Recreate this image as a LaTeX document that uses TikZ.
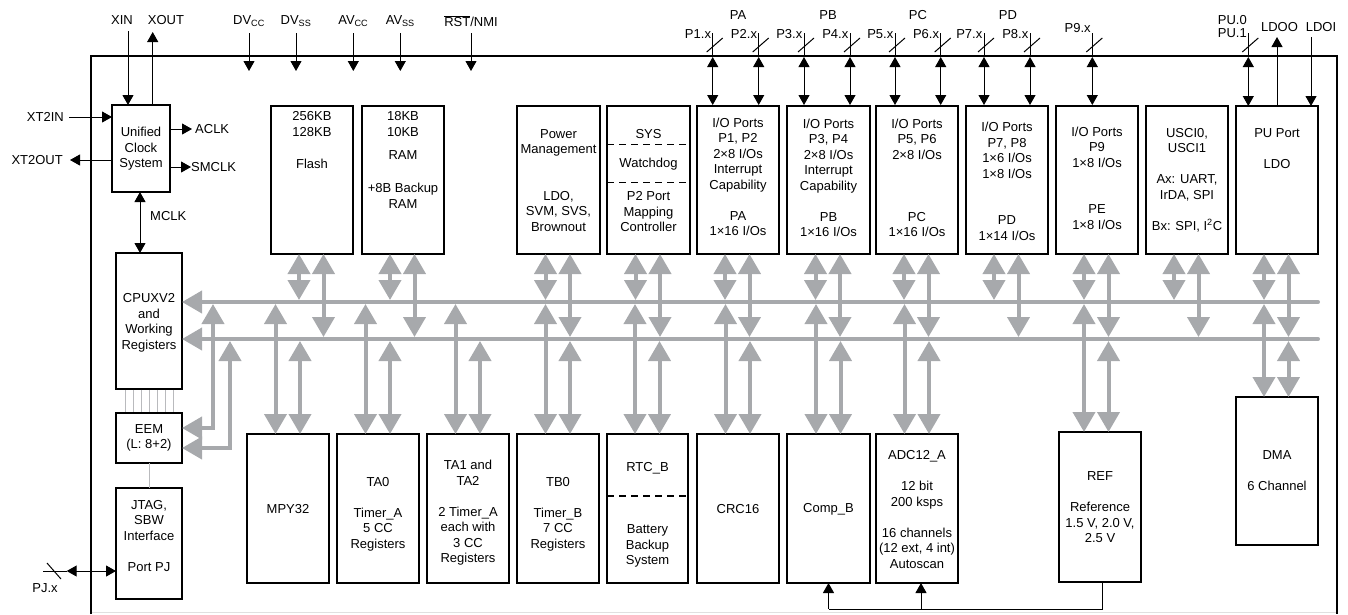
\documentclass[tikz,border=0pt]{standalone}
\usepackage{fontspec}
\setmainfont{Liberation Sans}
\usetikzlibrary{arrows.meta}
\definecolor{busgray}{RGB}{167,169,172}
\newcommand\mybox[5]{\node[box,minimum width={#4-#2},minimum height={#5-#3}] (#1) at ({(#2+#4)/2},{(#3+#5)/2}) {};}
\newcommand\topconn[1]{%
  \draw[gbus] ([xshift=-13pt]#1.south) -- ([xshift=-13pt]#1.south |- b1t);
  \draw[gbus] ([xshift=11.5pt]#1.south) -- ([xshift=11.5pt]#1.south |- b2t);}
\newcommand\botconn[1]{%
  \draw[gbus] ([xshift=-12.5pt]#1.north |- b1b) -- ([xshift=-12.5pt]#1.north);
  \draw[gbus] ([xshift=12pt]#1.north |- b2b) -- ([xshift=12pt]#1.north);}
\begin{document}
\begin{tikzpicture}[x=1pt,y=-1pt,font=\fontsize{13}{15.5}\selectfont,
  box/.style={draw,line width=1.8pt,inner sep=0pt,outer sep=0pt},
  txt/.style={align=center,inner sep=0pt},
  lbl/.style={inner sep=0pt},
  arr/.style={line width=1pt,-{Triangle[length=10pt,width=11pt]}},
  darr/.style={line width=1pt,{Triangle[length=10pt,width=11pt]}-{Triangle[length=10pt,width=11pt]}},
  gbus/.style={draw=busgray,line width=4pt,{Triangle[length=20pt,width=22pt]}-{Triangle[length=20pt,width=22pt]}},
  gline/.style={draw=busgray,line width=4pt},
  dsh/.style={line width=1.1pt,dash pattern=on 7pt off 5pt},
  thin/.style={line width=1pt}]
\useasboundingbox (0,0) rectangle (1348,614);
% chip frame
\draw[black!12,line width=1pt] (91,612.5) -- (1337,612.5);
\draw[line width=2.2pt] (91,614) -- (91,56) -- (1337,56) -- (1337,614);
% bus reference coordinates
\coordinate (b1t) at (0,300); \coordinate (b1b) at (0,304);
\coordinate (b2t) at (0,337); \coordinate (b2b) at (0,341);
% boxes
\mybox{clock}{112}{105}{170}{192}
\mybox{cpu}{116}{253}{182}{389}
\mybox{eem}{116}{413}{182}{463}
\mybox{jtag}{116}{488}{182}{599}
\mybox{flash}{271}{106}{353}{254}
\mybox{ram}{362}{106}{444}{254}
\mybox{pm}{517}{106}{600}{254}
\mybox{sys}{607}{106}{690}{254}
\mybox{pa}{697}{106}{779}{254}
\mybox{pb}{787}{106}{870}{254}
\mybox{pc}{876}{106}{958}{254}
\mybox{pd}{966}{106}{1048}{254}
\mybox{pe}{1056}{106}{1138}{254}
\mybox{usci}{1146}{106}{1228}{254}
\mybox{pu}{1236}{106}{1318}{254}
\mybox{mpy}{247}{434}{329}{583}
\mybox{tazero}{337}{434}{419}{583}
\mybox{taone}{427}{434}{509}{583}
\mybox{tb}{517}{434}{599}{583}
\mybox{rtc}{607}{434}{688}{583}
\mybox{crc}{697}{434}{779}{583}
\mybox{comp}{787}{434}{870}{583}
\mybox{adc}{876}{434}{958}{583}
\mybox{ref}{1059}{432}{1141}{582}
\mybox{dma}{1236}{397}{1318}{545}
% dashed separators
\draw[dsh] (sys.west |- 0,144.3) -- (sys.east |- 0,144.3);
\draw[dsh] (sys.west |- 0,182.3) -- (sys.east |- 0,182.3);
\draw[dsh] (rtc.west |- 0,496) -- (rtc.east |- 0,496);
% box texts
\node[txt] at (141,149) {Unified\\Clock\\System};
\node[txt] at (149,323) {CPUXV2\\and\\Working\\Registers};
\node[txt] at (149,438) {EEM\\(L: 8+2)};
\node[txt] at (149,536) {JTAG,\\SBW\\Interface\\[15.5pt]Port PJ};
\node[txt] at (312,124) {256KB\\128KB};
\node[txt] at (312,164) {Flash};
\node[txt] at (403,124) {18KB\\10KB};
\node[txt] at (403,155) {RAM};
\node[txt] at (403,196) {+8B Backup\\RAM};
\node[txt] at (558.5,180.5) {Power\\Management\\[31pt]LDO,\\SVM, SVS,\\Brownout};
\node[txt] at (648.5,134) {SYS};
\node[txt] at (648.5,164.5) {Watchdog};
\node[txt] at (648.5,212) {P2 Port\\Mapping\\Controller};
\node[txt] at (738,177) {I/O Ports\\P1, P2\\2×8 I/Os\\Interrupt\\Capability\\[15.5pt]PA\\1×16 I/Os};
\node[txt] at (828.5,178) {I/O Ports\\P3, P4\\2×8 I/Os\\Interrupt\\Capability\\[15.5pt]PB\\1×16 I/Os};
\node[txt] at (917,178) {I/O Ports\\P5, P6\\2×8 I/Os\\[46.5pt]PC\\1×16 I/Os};
\node[txt] at (1007,181.5) {I/O Ports\\P7, P8\\1×6 I/Os\\1×8 I/Os\\[31pt]PD\\1×14 I/Os};
\node[txt] at (1097,178) {I/O Ports\\P9\\1×8 I/Os\\[31pt]PE\\1×8 I/Os};
\node[txt] at (1187,180) {USCI0,\\USCI1\\[15.5pt]Ax: UART,\\IrDA, SPI\\[15.5pt]Bx: SPI, I\textsuperscript{2}C};
\node[txt] at (1277,149) {PU Port\\[15.5pt]LDO};
\node[txt] at (288,509) {MPY32};
\node[txt] at (378,514) {TA0\\[15.5pt]Timer\_A\\5 CC\\Registers};
\node[txt] at (468,513) {TA1 and\\TA2\\[15.5pt]2 Timer\_A\\each with\\3 CC\\Registers};
\node[txt] at (558,514) {TB0\\[15.5pt]Timer\_B\\7 CC\\Registers};
\node[txt] at (647.5,468) {RTC\_B};
\node[txt] at (647.5,546) {Battery\\Backup\\System};
\node[txt] at (738,509) {CRC16};
\node[txt] at (828.5,509) {Comp\_B};
\node[txt] at (917,509.5) {ADC12\_A\\[15.5pt]12 bit\\200 ksps\\[15.5pt]16 channels\\(12 ext, 4 int)\\Autoscan};
\node[txt] at (1100,507.5) {REF\\[15.5pt]Reference\\1.5 V, 2.0 V,\\2.5 V};
\node[txt] at (1277,471) {DMA\\[15.5pt]6 Channel};
% gray buses
\draw[gline,line cap=round,-{Triangle[length=20pt,width=22pt]}] (1318,302) -- (cpu.east |- 0,302);
\draw[gline,line cap=round,-{Triangle[length=20pt,width=22pt]}] (1318,339) -- (cpu.east |- 0,339);
\draw[gbus] (213,304) |- (eem.east |- 0,428);
\draw[gbus] (230,341) |- (eem.east |- 0,448);
\foreach \b in {flash,ram,pm,sys,pa,pb,pc,pd,pe,usci,pu}{\topconn{\b}}
\foreach \b in {mpy,tazero,taone,tb,rtc,crc,comp,adc}{\botconn{\b}}
\draw[gbus] ([xshift=-13pt]pe.south |- b1b) -- ([xshift=-13pt]pe.south |- ref.north);
\draw[gbus] ([xshift=11.5pt]pe.south |- b2b) -- ([xshift=11.5pt]pe.south |- ref.north);
\draw[gbus] ([xshift=-13pt]pu.south |- b1b) -- ([xshift=-13pt]pu.south |- dma.north);
\draw[gbus] ([xshift=11.5pt]pu.south |- b2b) -- ([xshift=11.5pt]pu.south |- dma.north);
% thin gray links CPU-EEM-JTAG
\foreach \i in {0,...,6}{\draw[busgray!80,line width=0.8pt] (125+8*\i,389.9) -- (125+8*\i,412.1);}
\draw[busgray!80,line width=0.8pt] (eem.south) -- (jtag.north);
% clock system signals
\node[lbl] (xin) at (122,20) {XIN};
\node[lbl] (xout) at (166,20) {XOUT};
\draw[arr] (128,31) -- (128,0 |- clock.north);
\draw[arr] (152.7,0 |- clock.north) -- (152.7,32);
\node[lbl,anchor=east] (xt2in) at (64,117) {XT2IN};
\node[lbl,anchor=east] (xt2out) at (63,160) {XT2OUT};
\draw[arr] (69,117) -- (clock.west |- 0,117);
\draw[arr] (clock.west |- 0,160) -- (70,160);
\node[lbl,anchor=west] (aclk) at (195,129) {ACLK};
\node[lbl,anchor=west] (smclk) at (191,167) {SMCLK};
\draw[arr] (clock.east |- 0,129) -- (192,129);
\draw[arr] (clock.east |- 0,167) -- (191,167);
\draw[darr] (140,0 |- clock.south) -- (140,0 |- cpu.north);
\node[lbl,anchor=west] (mclk) at (150,216) {MCLK};
% supplies
\foreach \sx/\sl in {249/DV\textsubscript{CC},296/DV\textsubscript{SS},353.3/AV\textsubscript{CC},400.3/AV\textsubscript{SS}}{
  \node[lbl] at (\sx,21) {\sl};
  \draw[arr] (\sx,33) -- (\sx,71);}
\node[lbl] (rst) at (471,21) {$\overline{\mbox{RST}}$/NMI};
\draw[arr] (471,33) -- (471,71);
% ports
\foreach \px/\nm/\ly in {712.7/P1.x/34,758.7/P2.x/34,804/P3.x/34,850/P4.x/34,895/P5.x/34,940.7/P6.x/34,984/P7.x/34,1030/P8.x/34,1092.3/P9.x/28}{
  \draw[thin] (\px,33) -- (\px,56);
  \draw[darr] (\px,57) -- (\px,105);
  \draw[thin] (\px-6,52) -- (\px+10,38);
  \node[lbl,anchor=east] at (\px-1.5,\ly) {\nm};}
\node[lbl] at (738,15) {PA};
\node[lbl] at (828,15) {PB};
\node[lbl] at (918,15) {PC};
\node[lbl] at (1008,15) {PD};
\draw[thin] (1248.3,33) -- (1248.3,56);
\draw[darr] (1248.3,57) -- (1248.3,0 |- pu.north);
\draw[thin] (1242.3,52) -- (1258.3,38);
\node[lbl,anchor=east] at (1247,20) {PU.0};
\node[lbl,anchor=east] at (1247,33.5) {PU.1};
\draw[arr] (1277,0 |- pu.north) -- (1277,37);
\node[lbl] (ldoo) at (1279.5,27) {LDOO};
\draw[arr] (1311,37) -- (1311,0 |- pu.north);
\node[lbl] (ldoi) at (1321,27) {LDOI};
% PJ
\draw[thin] (43,571) -- (67,571);
\draw[darr] (66.7,571) -- (jtag.west |- 0,571);
\draw[thin] (47,563) -- (61,579);
\node[lbl] (pjx) at (45,588) {PJ.x};
% reference distribution
\draw[thin] (1102,0 |- ref.south) -- (1102,609) -- (828.5,609);
\draw[arr] (828.5,609) -- (828.5,0 |- comp.south);
\draw[arr] (921,609) -- (921,0 |- adc.south);
\end{tikzpicture}
\end{document}
